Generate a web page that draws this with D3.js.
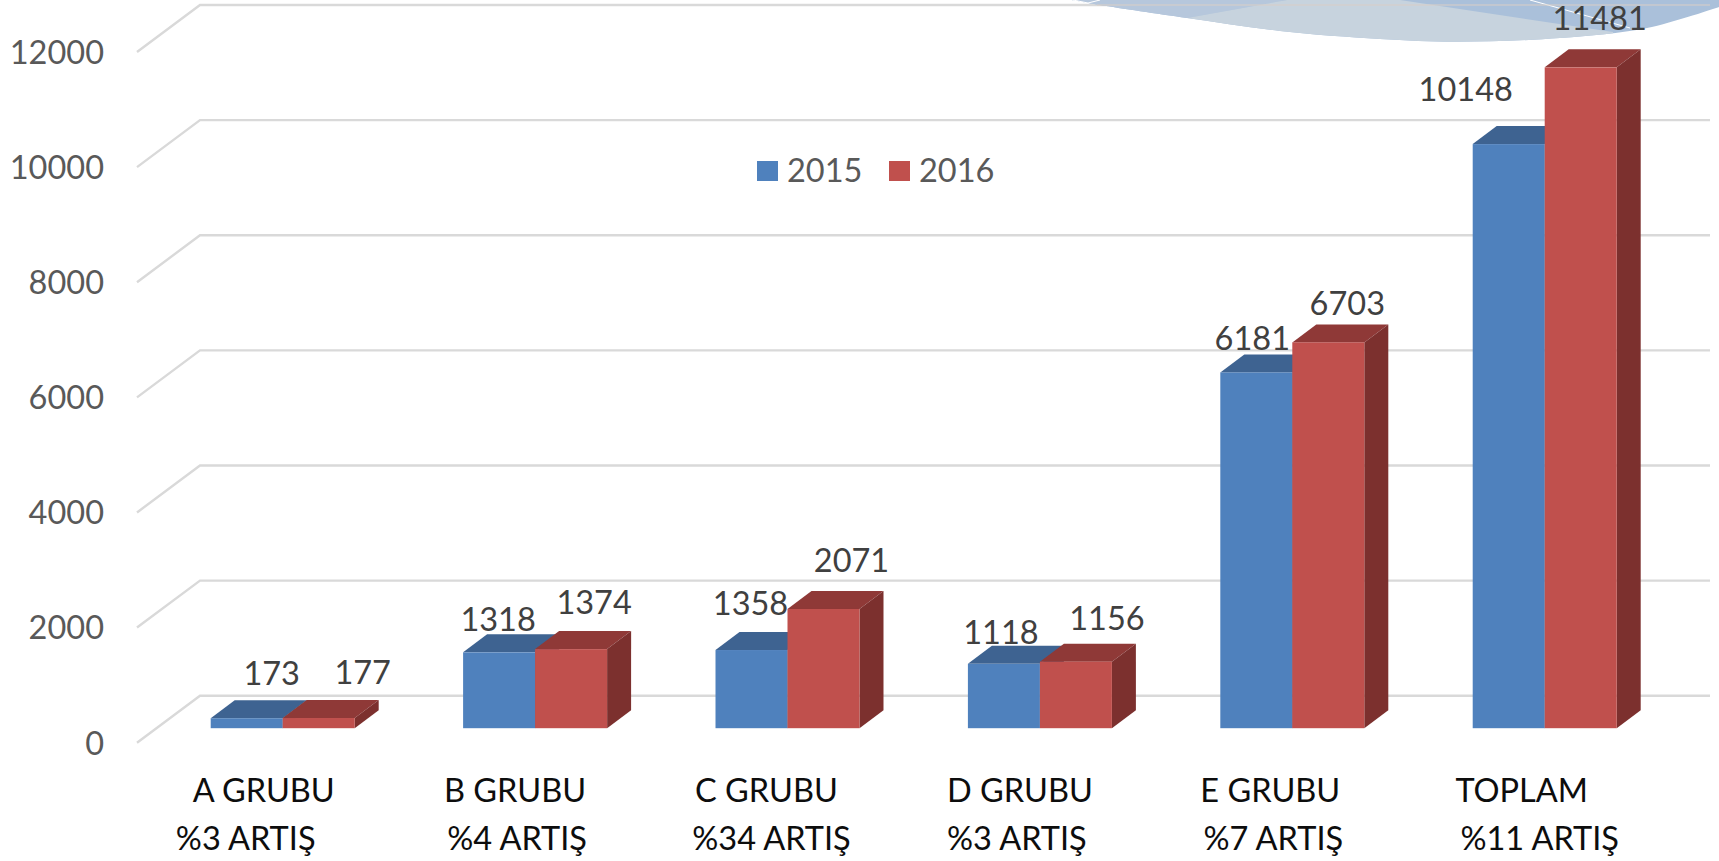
<!DOCTYPE html>
<html><head><meta charset="utf-8">
<script src="https://cdn.jsdelivr.net/npm/d3@7"></script>
<style>html,body{margin:0;padding:0;background:#fff;overflow:hidden}svg{display:block}text{font-family:Lato,"Open Sans",sans-serif}</style>
</head><body><svg id="c" width="1719" height="861"></svg>
<script>
const categories = ["A GRUBU","B GRUBU","C GRUBU","D GRUBU","E GRUBU","TOPLAM"];
const increases = ["%3 ARTIŞ","%4 ARTIŞ","%34 ARTIŞ","%3 ARTIŞ","%7 ARTIŞ","%11 ARTIŞ"];
const seriesNames = ["2015","2016"];
const values2015 = [173,1318,1358,1118,6181,10148];
const values2016 = [177,1374,2071,1156,6703,11481];
const tickValues = [0,2000,4000,6000,8000,10000,12000];
const frontColors = ["#4f81bd","#c0504d"], topColors = ["#3e6391","#8f3937"], sideColors = ["#35557c","#7c302e"];

const svg = d3.select("#c");
const FS = 32.5;
const W = {x0:200,x1:1710,dx:63,dy:47};     // wall & floor projection
const D = {dx:24,dy:18,base:32.5};          // bar depth
const y = d3.scaleLinear().domain([0,12000]).range([695.7,5]);
const x0 = d3.scaleBand().domain(categories).range([210.7,1616.7]).paddingInner(0.4295).paddingOuter(0);
const x1 = d3.scaleBand().domain(seriesNames).range([0,x0.bandwidth()]);

// gridlines
svg.append("g").selectAll("path").data(tickValues).join("path")
  .attr("d",v=>d3.line()([[W.x0-W.dx,y(v)+W.dy],[W.x0,y(v)],[W.x1,y(v)]]))
  .attr("fill","none").attr("stroke","#d9d9d9").attr("stroke-width",2.4);

// y axis
const ax = svg.append("g").attr("transform",`translate(${W.x0-W.dx-33},${W.dy+1})`)
  .call(d3.axisLeft(y).tickValues(tickValues).tickSize(0).tickPadding(0).tickFormat(d3.format("d")));
ax.select(".domain").remove();
ax.selectAll("text").attr("font-size",FS).attr("fill","#595959").style("font-family",'Lato,"Open Sans",sans-serif');

// decorative swoosh at the top right
const edge = [[1072,0],[1100,5],[1187,18],[1280,31],[1380,39],[1457,41.7],[1560,38],[1647,28],[1719,7]];
const swPath = d3.line().curve(d3.curveCatmullRom)(edge)+"L1719,0Z";
svg.append("defs").append("clipPath").attr("id","sw").append("path").attr("d",swPath);
const sw = svg.append("g").attr("clip-path","url(#sw)");
sw.append("rect").attr("x",1040).attr("y",0).attr("width",679).attr("height",60).attr("fill","#aac0da");
sw.append("path").attr("d","M1040,0 L1287,0 L1187,18 L1040,18 Z").attr("fill","#b6c7dc");
sw.append("path").attr("d","M1187,18 L1287,0 L1400,0 L1613,32 L1613,60 L1187,60 Z").attr("fill","#c7d3de");
svg.append("path").attr("d","M1073,0 L1088,3 L1100,0 M1530,0 L1630,28").attr("fill","none").attr("stroke","#fff").attr("stroke-width",1);
svg.append("line").attr("x1",1097).attr("x2",1710).attr("y1",y(12000)).attr("y2",y(12000)).attr("stroke","#d9cfc8").attr("stroke-width",1.5).attr("opacity",.7);

// bars
const rows = categories.map((c,i)=>seriesNames.map((s,j)=>({c,i,s,j,v:[values2015,values2016][j][i]})));
const bx = d=>x0(d.c)+x1(d.s), bw = x1.bandwidth();
const by = d=>y(d.v)+D.base, base = y(0)+D.base;
const line = d3.line();
const g = svg.append("g").selectAll("g").data(rows).join("g").selectAll("g").data(r=>r).join("g");
g.append("path").attr("fill",d=>topColors[d.j])
  .attr("d",d=>line([[bx(d),by(d)],[bx(d)+D.dx,by(d)-D.dy],[bx(d)+bw+D.dx,by(d)-D.dy],[bx(d)+bw,by(d)]])+"Z");
g.append("path").attr("fill",d=>sideColors[d.j])
  .attr("d",d=>line([[bx(d)+bw,by(d)],[bx(d)+bw+D.dx,by(d)-D.dy],[bx(d)+bw+D.dx,base-D.dy],[bx(d)+bw,base]])+"Z");
g.append("rect").attr("fill",d=>frontColors[d.j])
  .attr("x",d=>bx(d)).attr("y",by).attr("width",bw).attr("height",d=>base-by(d));

// data labels (hand-placed in the original, so each has its own nudge)
const labelNudgeX = [[25,44],[-1,23],[-1,28],[-3,31],[-4,19],[-43,19]];
const labelNudgeY = [[-15,-16],[-3,-17],[-17,-19],[-2,-14],[-4,-9],[-25,-19]];
svg.append("g").selectAll("text").data(rows.flat()).join("text")
  .attr("x",d=>bx(d)+bw/2+labelNudgeX[d.i][d.j]).attr("y",d=>by(d)-D.dy+labelNudgeY[d.i][d.j])
  .attr("text-anchor","middle").attr("font-size",FS).attr("fill","#404040").text(d=>d.v);

// category labels
const line1Nudge = [-19,-20,-21,-20,-22,-23], line2Nudge = [-37,-18,-16,-23,-19,-5];
const cat = svg.append("g").attr("fill","#0d0d0d").attr("font-size",FS).attr("text-anchor","middle");
cat.selectAll(".a").data(categories).join("text").attr("class","a")
  .attr("x",(c,i)=>x0(c)+x0.bandwidth()/2+line1Nudge[i]).attr("y",802).text(c=>c);
cat.selectAll(".b").data(increases).join("text").attr("class","b")
  .attr("x",(c,i)=>x0(categories[i])+x0.bandwidth()/2+line2Nudge[i]).attr("y",850).text(c=>c);

// legend
const lg = svg.append("g").selectAll("g").data(seriesNames).join("g")
  .attr("transform",(s,i)=>`translate(${757+i*132},161)`);
lg.append("rect").attr("width",21).attr("height",20).attr("fill",(s,i)=>frontColors[i]);
lg.append("text").attr("x",30).attr("y",21).attr("font-size",FS).attr("fill","#595959").text(s=>s);
</script></body></html>
